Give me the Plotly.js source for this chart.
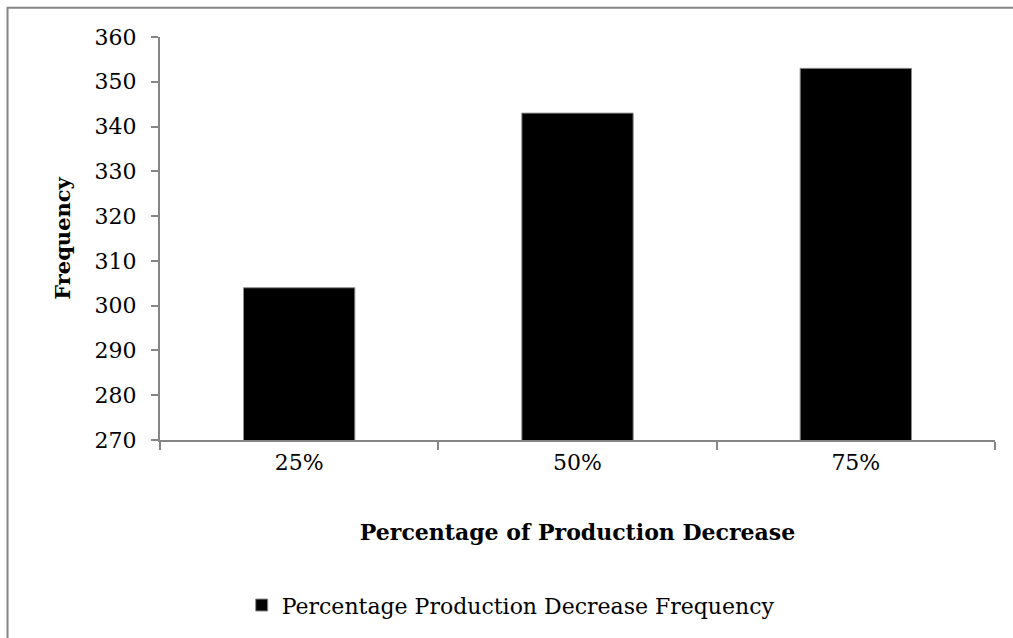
<!DOCTYPE html>
<html>
<head>
<meta charset="utf-8">
<script src="https://cdn.plot.ly/plotly-3.0.1.min.js"></script>
<style>html,body{margin:0;padding:0;background:#fff;}#chart{width:1013px;height:638px;}</style>
</head>
<body>
<div id="chart"></div>
<script>
const categories = ["25%", "50%", "75%"];
const frequencies = [304, 343, 353];
const seriesName = "Percentage Production Decrease Frequency";
const yTicks = [270, 280, 290, 300, 310, 320, 330, 340, 350, 360];

const FONT = "DejaVu Serif, Liberation Serif, serif";
const axisGray = "#868686";

const trace = {
  type: "bar",
  x: categories,
  y: frequencies,
  name: seriesName,
  marker: {color: "#000000", line: {color: "#8c8c8c", width: 1}},
  showlegend: true
};

const layout = {
  width: 1013, height: 638,
  margin: {l: 160, r: 18, t: 37, b: 198},
  paper_bgcolor: "#ffffff", plot_bgcolor: "#ffffff",
  font: {family: FONT, size: 22, color: "#000"},
  bargap: 0.6,
  showlegend: true,
  legend: {orientation: "h", x: 0.42, xanchor: "center", y: -0.41, yanchor: "middle",
           font: {family: FONT, size: 22, color: "#000"}, itemwidth: 30, tracegroupgap: 0},
  xaxis: {
    type: "category",
    showline: true, linecolor: axisGray, linewidth: 2,
    ticks: "outside", tickson: "boundaries", ticklen: 8, tickcolor: axisGray, tickwidth: 2,
    showgrid: false, zeroline: false, ticklabelstandoff: 2,
    tickfont: {family: FONT, size: 22, color: "#000"},
    title: {text: "<b>Percentage of Production Decrease</b>", font: {family: FONT, size: 22, color: "#000"}, standoff: 50}
  },
  yaxis: {
    range: [270, 360], tickvals: yTicks,
    showline: true, linecolor: axisGray, linewidth: 2,
    ticks: "outside", ticklen: 7, tickcolor: axisGray, tickwidth: 2,
    showgrid: false, zeroline: false, ticklabelstandoff: 10,
    tickfont: {family: FONT, size: 22, color: "#000"},
    title: {text: "<b>Frequency</b>", font: {family: FONT, size: 21, color: "#000"}, standoff: 18}
  },
  shapes: [
    {type: "rect", xref: "paper", yref: "paper", x0: -0.1826, x1: 1.1, y0: -0.6, y1: 1.0725,
     line: {color: "#868686", width: 2}, fillcolor: "rgba(0,0,0,0)", layer: "below"}
  ]
};

Plotly.newPlot("chart", [trace], layout, {displayModeBar: false, staticPlot: true});
</script>
</body>
</html>
